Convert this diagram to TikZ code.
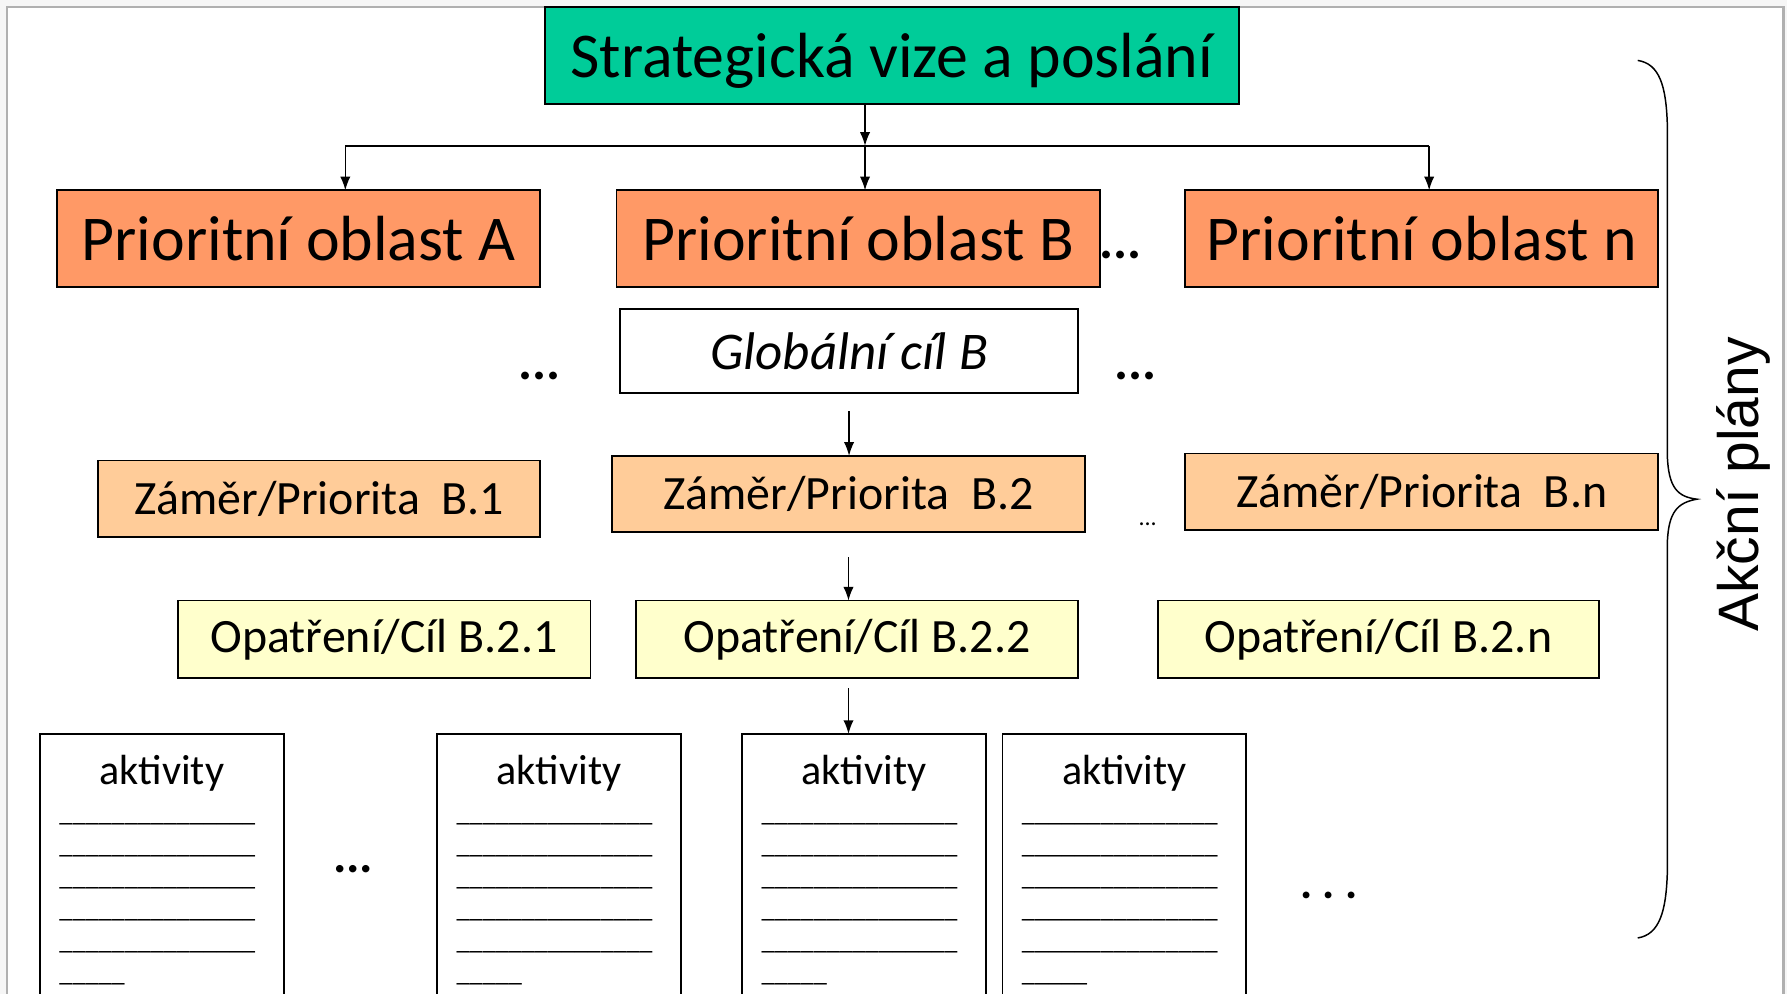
\documentclass[tikz,border=0pt]{standalone}
\usepackage{fontspec}
\setmainfont{Carlito}
\newfontfamily\arialfont{Liberation Sans}
\usetikzlibrary{arrows.meta,calc}
\definecolor{vizefill}{HTML}{00CC99}
\definecolor{oblastfill}{HTML}{FF9966}
\definecolor{zamerfill}{HTML}{FFCC99}
\definecolor{opatrfill}{HTML}{FFFFCC}
\definecolor{pagegrey}{HTML}{F6F6F6}
\definecolor{framegrey}{HTML}{B0B0B0}
\begin{document}
\begin{tikzpicture}[x=1pt,y=-1pt,
  bx/.style={draw=black, line width=1.5pt, inner sep=0pt, outer sep=0pt, align=center},
  vize/.style={bx, fill=vizefill, minimum width=609pt, minimum height=85pt, text depth=0pt, font=\fontsize{56}{67}\selectfont},
  oblast/.style={bx, fill=oblastfill, minimum height=85pt, font=\fontsize{56}{67}\selectfont},
  cil/.style={bx, fill=white, minimum height=74pt, font=\fontsize{46.5}{56}\selectfont\itshape},
  zamer/.style={bx, fill=zamerfill, minimum height=67pt, font=\fontsize{42}{50}\selectfont},
  opatr/.style={bx, fill=opatrfill, minimum height=68pt, font=\fontsize{42}{50}\selectfont},
  akt/.style={draw=black, line width=1.4pt, fill=white, minimum width=214pt, minimum height=260pt, anchor=north, inner sep=0pt, outer sep=0pt},
  akttitle/.style={font=\fontsize{37}{44}\selectfont, anchor=base, inner sep=0pt},
  uline/.style={font=\fontsize{23}{28}\selectfont, anchor=base west, inner sep=0pt},
  dots/.style={anchor=base, inner sep=0pt},
  conn/.style={line width=1.3pt, draw=black},
  arr/.style={conn, -{Latex[length=12pt,width=9pt]}},
]
% page area and slide frame
\clip (0,0) rectangle (1568,872);
\fill[pagegrey] (0,0) rectangle (1568,872);
\draw[framegrey, line width=2pt, fill=white] (6,6) rectangle (1565,890);

% hierarchy boxes
\node[vize] (vize) at (782.5,48.5) {Strategická vize a poslání};
\node[oblast, minimum width=424pt] (oA) at (262,209.5) {Prioritní oblast A};
\node[oblast, minimum width=424pt] (oB) at (753,209.5) {Prioritní oblast B};
\node[oblast, minimum width=415pt] (oN) at (1247.5,209.5) {Prioritní oblast n};
\node[cil, minimum width=402pt] (cB) at (745,308) {Globální cíl B};
\node[zamer, minimum width=388pt] (z1) at (280,437.5) {Záměr/Priorita~ B.1};
\node[zamer, minimum width=415pt] (z2) at (744.5,433.5) {Záměr/Priorita~ B.2};
\node[zamer, minimum width=415pt] (zN) at (1247.5,431.5) {Záměr/Priorita~ B.n};
\node[opatr, minimum width=362pt] (p1) at (337,561) {Opatření/Cíl B.2.1};
\node[opatr, minimum width=388pt] (p2) at (752,561) {Opatření/Cíl B.2.2};
\node[opatr, minimum width=387pt] (pN) at (1209.5,561) {Opatření/Cíl B.2.n};

% activity sheets
\foreach \i/\x in {1/142,2/490.5,3/758,4/986.5}{
  \node[akt] (a\i) at (\x,644) {};
  \node[akttitle] (t\i) at (\x,688) {aktivity};
  \foreach \k/\y in {1/721,2/749,3/777,4/805,5/833}{
    \node[uline] (u\i-\k) at ($(a\i.north west)+(17,\y-644)$) {\_\_\_\_\_\_\_\_\_\_\_\_\_\_\_};
  }
  \node[uline] (u\i-6) at ($(a\i.north west)+(17,861-644)$) {\_\_\_\_\_};
}

% connectors
\coordinate (jm) at (759,128);
\coordinate (jl) at (303,128);
\coordinate (jr) at (1254,128);
\draw[arr] (vize.south -| jm) -- (jm);
\draw[conn] (jl) -- (jr);
\draw[arr] (jl) -- (oA.north -| jl);
\draw[arr] (jm) -- (oB.north -| jm);
\draw[arr] (jr) -- (oN.north -| jr);
\draw[arr] ($(cB.south)+(0,16)$) -- (z2.north -| cB.south);
\draw[arr] ($(z2.south)+(0,22)$) -- (p2.north -| z2.south);
\draw[arr] ($(p2.south -| z2.south)+(0,9)$) -- (a3.north -| z2.south);

% ellipses
\node[dots, font=\fontsize{46}{55}\selectfont\bfseries] (d1) at (983,227) {...};
\node[dots, font=\fontsize{46}{55}\selectfont\bfseries] (d2) at (473,333) {...};
\node[dots, font=\fontsize{46}{55}\selectfont\bfseries] (d3) at (996,333) {...};
\node[dots, font=\fontsize{21}{25}\selectfont] (d4) at (1007,461) {...};
\node[dots, font=\fontsize{44}{52}\selectfont\bfseries] (d5) at (310,766) {...};
\node[dots, font=\fontsize{40}{48}\selectfont\bfseries] (d6) at (1166,788) {.\ .\ .};

% brace and its label
\draw[line width=1.3pt] (1437,53) .. controls (1456,56) and (1462,75) .. (1463,110)
  -- (1463,400) .. controls (1464,428) and (1472,436) .. (1489,438)
  .. controls (1472,441) and (1464,449) .. (1463,476)
  -- (1463,765) .. controls (1462,800) and (1456,820) .. (1437,823);
\node[rotate=90, anchor=base, inner sep=0pt, font=\arialfont\fontsize{50}{60}\selectfont] (plany) at (1543,425) {Akční plány};
\end{tikzpicture}
\end{document}
